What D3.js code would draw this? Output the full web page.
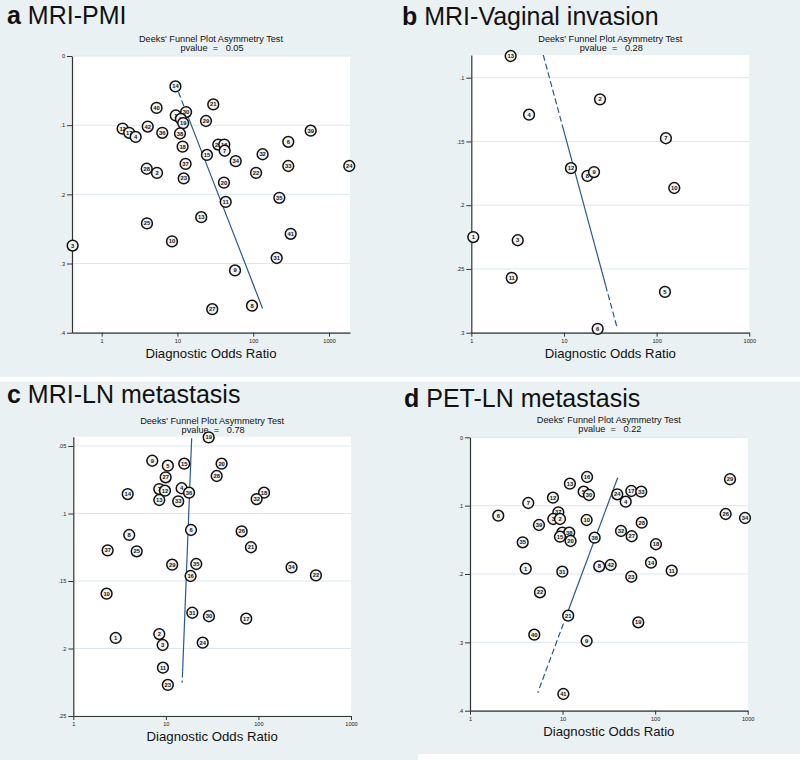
<!DOCTYPE html>
<html><head><meta charset="utf-8">
<script src="https://cdn.jsdelivr.net/npm/d3@7"></script>
<style>
body{margin:0;background:#fff;}
svg{display:block;}
text{font-family:"Liberation Sans",Arial,sans-serif;}
</style></head><body>
<svg id="chart" width="800" height="760"></svg>
<script>
// ---------------- DATA ----------------
const panelLetters = ["a", "b", "c", "d"];
const panelNames = ["MRI-PMI", "MRI-Vaginal invasion", "MRI-LN metastasis", "PET-LN metastasis"];
const panelPvalues = ["0.05", "0.28", "0.78", "0.22"];
const chartTitle = "Deeks' Funnel Plot Asymmetry Test";
const xAxisTitle = "Diagnostic Odds Ratio";
const xTickValues = [1, 10, 100, 1000];
const xTickLabels = ["1", "10", "100", "1000"];

// Panel a
const aLabels = [14,40,21,1,30,5,19,29,12,17,4,42,36,38,18,26,16,7,15,34,32,6,39,24,33,22,37,28,2,23,20,35,11,13,25,10,3,41,31,9,27,8];
const aDOR = [9.4,5.3,29.7,9.5,13.0,11.1,11.9,23.8,1.89,2.31,2.81,4.05,6.31,10.8,11.7,34.6,41.5,42.0,24.5,58.7,133,290,573,1850,290,109,12.8,3.93,5.37,12.1,41.1,221,43.3,20.6,3.96,8.47,0.414,312,204,57.5,28.8,96.3];
const aSE = [0.044,0.075,0.070,0.086,0.081,0.091,0.097,0.094,0.105,0.111,0.117,0.102,0.111,0.112,0.131,0.128,0.128,0.137,0.143,0.152,0.142,0.124,0.108,0.159,0.159,0.169,0.156,0.163,0.169,0.177,0.183,0.205,0.211,0.233,0.242,0.268,0.274,0.257,0.292,0.310,0.366,0.361];
const aYTicks = [0, 0.1, 0.2, 0.3, 0.4];
const aYTickLabels = ["0", ".1", ".2", ".3", ".4"];
const aLineDOR = [10.3, 133];
const aLineSE = [0.052, 0.365];
const aSolidSE = [0.075, 0.365];

// Panel b
const bLabels = [13,2,4,7,12,8,9,10,1,3,11,5,6];
const bDOR = [2.66,24.5,4.2,126,11.9,17.9,21.1,155,1.05,3.17,2.73,123,23.1];
const bSE = [0.083,0.117,0.129,0.1475,0.171,0.177,0.174,0.1865,0.225,0.2275,0.257,0.268,0.297];
const bYTicks = [0.1, 0.15, 0.2, 0.25, 0.3];
const bYTickLabels = [".1", ".15", ".2", ".25", ".3"];
const bLineDOR = [5.98, 37.6];
const bLineSE = [0.0822, 0.2966];
const bSolidSE = [0.137, 0.263];

// Panel c
const cLabels = [19,9,5,15,20,27,28,14,7,12,4,36,13,33,18,32,6,8,26,37,25,21,29,35,16,34,22,10,31,30,17,1,2,3,24,11,23];
const cDOR = [29,7.13,10.5,15.8,40,9.95,35.4,3.87,8.49,9.78,14.8,17.8,8.49,13.6,115,95.6,18.7,4.02,65.9,2.35,4.84,83,11.7,21.3,18.5,228,418,2.29,19.3,29.2,73.8,2.87,8.49,9.23,25,9.3,10.5];
const cSE = [0.0436,0.0609,0.0646,0.0631,0.0631,0.0732,0.0722,0.0856,0.0819,0.0831,0.0813,0.0846,0.090,0.091,0.0846,0.0893,0.1122,0.1159,0.1132,0.1273,0.128,0.125,0.1379,0.1374,0.1463,0.1399,0.1458,0.1594,0.1735,0.1761,0.1779,0.1922,0.1893,0.1974,0.1957,0.2142,0.227];
const cYTicks = [0.05, 0.1, 0.15, 0.2, 0.25];
const cYTickLabels = [".05", ".1", ".15", ".2", ".25"];
const cLineDOR = [19.0, 15.0];
const cLineSE = [0.0443, 0.2253];
const cSolidSE = [0.0443, 0.217];

// Panel d
const dLabels = [16,13,29,5,30,24,17,33,4,12,7,6,37,3,2,10,28,26,34,39,25,38,15,20,35,36,32,27,18,1,31,8,42,14,11,23,22,21,19,40,9,41];
const dDOR = [18.4,12.0,644,16.9,19.3,39,55.3,70.8,48.1,7.88,4.26,2.02,9.0,7.94,9.38,18.2,71.6,578,935,5.56,9.94,11.8,9.38,12.2,3.71,22.2,42.8,55.8,102,4.0,9.94,24.9,33.1,90.2,151,55.3,5.7,11.5,65.8,4.95,18.2,10.2];
const dSE = [0.0581,0.0679,0.0614,0.0796,0.0844,0.0834,0.0786,0.0796,0.0942,0.0884,0.0961,0.1147,0.1097,0.1195,0.1195,0.121,0.1249,0.1122,0.1181,0.1283,0.1396,0.1396,0.1454,0.1517,0.1536,0.1469,0.1371,0.1448,0.1565,0.1922,0.1966,0.1887,0.1868,0.1835,0.1952,0.204,0.2268,0.261,0.2707,0.2888,0.298,0.3756];
const dYTicks = [0, 0.1, 0.2, 0.3, 0.4];
const dYTickLabels = ["0", ".1", ".2", ".3", ".4"];
const dLineDOR = [39.4, 5.39];
const dLineSE = [0.0591, 0.3737];
const dSolidSE = [0.0591, 0.26];

// ---------------- LAYOUT ----------------
const layouts = [
  {x0:72, x1:350, y0:56, y1:332.7, xDom:[0.406,1892], yDom:[0,0.4], lx:7, ly:24, titleY:41.5, pY:50.7, xlabY:358},
  {x0:471.3, x1:749.3, y0:55, y1:332.7, xDom:[1,1000], yDom:[0.0822,0.3], lx:402, ly:24.5, titleY:42, pY:51.3, xlabY:358},
  {x0:73.3, x1:351, y0:436.7, y1:716, xDom:[1,1000], yDom:[0.0431,0.25], lx:7, ly:402.7, titleY:423.7, pY:433, xlabY:740.5},
  {x0:470, x1:747.7, y0:437.3, y1:710.7, xDom:[1,1000], yDom:[0,0.4], lx:404, ly:406.7, titleY:423, pY:432.3, xlabY:736}
];
const panels = [
  {labels:aLabels, dor:aDOR, se:aSE, yt:aYTicks, ytl:aYTickLabels, lDOR:aLineDOR, lSE:aLineSE, sSE:aSolidSE},
  {labels:bLabels, dor:bDOR, se:bSE, yt:bYTicks, ytl:bYTickLabels, lDOR:bLineDOR, lSE:bLineSE, sSE:bSolidSE},
  {labels:cLabels, dor:cDOR, se:cSE, yt:cYTicks, ytl:cYTickLabels, lDOR:cLineDOR, lSE:cLineSE, sSE:cSolidSE},
  {labels:dLabels, dor:dDOR, se:dSE, yt:dYTicks, ytl:dYTickLabels, lDOR:dLineDOR, lSE:dLineSE, sSE:dSolidSE}
];

const BG = "#eaf1f3", GRID = "#dbe8ee", LINE = "#2a5a8c";
const svg = d3.select("#chart");
svg.append("rect").attr("width",800).attr("height",760).attr("fill",BG);
svg.append("rect").attr("x",0).attr("y",376.7).attr("width",800).attr("height",5).attr("fill","#ffffff");
svg.append("rect").attr("x",418).attr("y",754).attr("width",382).attr("height",6).attr("fill","#ffffff");

panels.forEach((p, i) => {
  const L = layouts[i];
  const g = svg.append("g");
  const x = d3.scaleLog().domain(L.xDom).range([L.x0, L.x1]);
  const y = d3.scaleLinear().domain(L.yDom).range([L.y0, L.y1]);

  g.append("rect").attr("x",L.x0).attr("y",L.y0).attr("width",L.x1-L.x0).attr("height",L.y1-L.y0).attr("fill","#ffffff");
  g.selectAll(".grid").data(p.yt).join("line")
    .attr("x1",L.x0).attr("x2",L.x1).attr("y1",d=>y(d)).attr("y2",d=>y(d))
    .attr("stroke",GRID).attr("stroke-width",1);

  const yAxis = d3.axisLeft(y).tickValues(p.yt).tickFormat((d,k)=>p.ytl[k]).tickSize(5).tickSizeOuter(0).tickPadding(2);
  const ya = g.append("g").attr("transform",`translate(${L.x0},0)`).call(yAxis);
  const xAxis = d3.axisBottom(x).tickValues(xTickValues).tickFormat((d,k)=>xTickLabels[k]).tickSize(4).tickSizeOuter(0).tickPadding(2);
  const xa = g.append("g").attr("transform",`translate(0,${L.y1})`).call(xAxis);
  [ya, xa].forEach(a => {
    a.select(".domain").attr("stroke","#333").attr("stroke-width",1.2);
    a.selectAll(".tick line").attr("stroke","#333").attr("stroke-width",1);
    a.selectAll(".tick text").attr("font-size",5.6).attr("fill","#222").attr("font-family","Liberation Sans, Arial, sans-serif");
  });

  const l0 = Math.log10(p.lDOR[0]), l1 = Math.log10(p.lDOR[1]);
  const at = se => [x(Math.pow(10, l0 + (se - p.lSE[0])/(p.lSE[1]-p.lSE[0])*(l1-l0))), y(se)];
  const segs = [];
  if (p.sSE[0] > p.lSE[0]) segs.push({a:p.lSE[0], b:p.sSE[0], dash:true});
  segs.push({a:p.sSE[0], b:p.sSE[1], dash:false});
  if (p.sSE[1] < p.lSE[1]) segs.push({a:p.sSE[1], b:p.lSE[1], dash:true});
  segs.forEach(s => {
    const A = at(s.a), B = at(s.b);
    g.append("line").attr("x1",A[0]).attr("y1",A[1]).attr("x2",B[0]).attr("y2",B[1])
      .attr("stroke",LINE).attr("stroke-width",1.2)
      .attr("stroke-dasharray", s.dash ? "6,3" : null);
  });

  const pts = p.labels.map((lab,k)=>({lab, dor:p.dor[k], se:p.se[k]}));
  const m = g.selectAll(".pt").data(pts).join("g").attr("transform",d=>`translate(${x(d.dor)},${y(d.se)})`);
  m.append("circle").attr("r",5.4).attr("fill","#f2f2f2").attr("stroke","#111").attr("stroke-width",1.5);
  m.append("text").text(d=>d.lab).attr("text-anchor","middle").attr("dy","0.35em")
    .attr("font-size",5.8).attr("font-weight","bold").attr("fill","#111");

  const cx = (L.x0 + L.x1)/2;
  g.append("text").attr("x",cx).attr("y",L.titleY).attr("text-anchor","middle").attr("font-size",9.2).attr("fill","#111").text(chartTitle);
  g.append("text").attr("x",cx + 1).attr("y",L.pY).attr("text-anchor","middle").attr("font-size",9.2).attr("fill","#111")
    .attr("xml:space","preserve").style("white-space","pre").text("pvalue  =   " + panelPvalues[i]);
  g.append("text").attr("x",cx).attr("y",L.xlabY).attr("text-anchor","middle").attr("font-size",13.2).attr("fill","#111").text(xAxisTitle);

  const t = g.append("text").attr("x",L.lx).attr("y",L.ly).attr("font-size",25).attr("fill","#111")
    .attr("font-family","'Noto Sans CJK KR','Noto Sans',sans-serif");
  t.append("tspan").attr("font-weight","bold").text(panelLetters[i]);
  t.append("tspan").text(" " + panelNames[i]);
});
</script>
</body></html>
